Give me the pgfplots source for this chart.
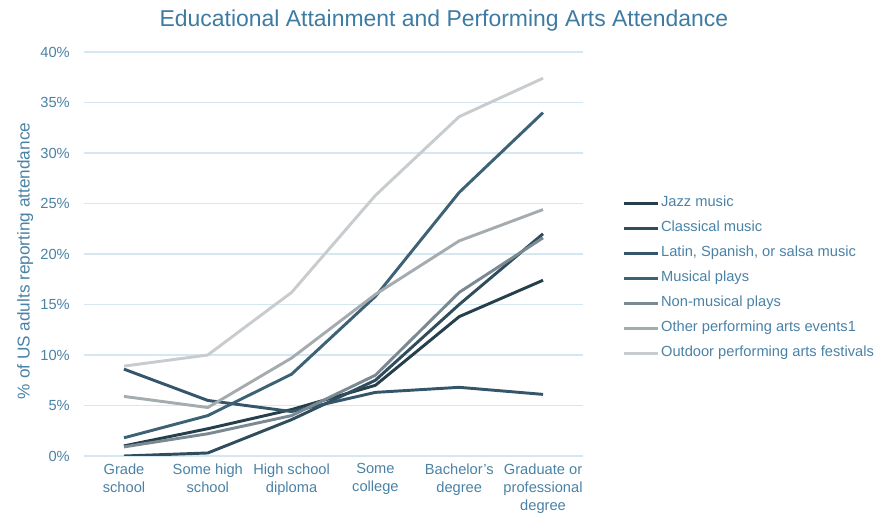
\documentclass[border=0pt]{standalone}
\usepackage{fontspec}
\setmainfont{Liberation Sans}
\usepackage{pgfplots}
\pgfplotsset{compat=1.18}
\definecolor{txt}{HTML}{4A82A6}
\definecolor{ttl}{HTML}{3D7BA3}
\definecolor{gridc}{HTML}{D5E7F0}
\definecolor{cjazz}{HTML}{263F4C}
\definecolor{cclass}{HTML}{2F4D5C}
\definecolor{clatin}{HTML}{35566A}
\definecolor{cmus}{HTML}{3D6275}
\definecolor{cnon}{HTML}{7A8992}
\definecolor{cother}{HTML}{A5ACB0}
\definecolor{cout}{HTML}{C8CCCE}
\begin{document}
\begin{tikzpicture}[x=0.75pt,y=0.75pt]
\path[use as bounding box] (0,0) rectangle (888,517);
\begin{axis}[
  at={(63pt,45.75pt)}, anchor=south west,
  scale only axis, width=374.25pt, height=303pt,
  xmin=-0.477, xmax=5.477, ymin=0, ymax=40,
  axis line style={draw=none}, tick style={draw=none}, major tick length=0pt,
  ymajorgrids, grid style={color=gridc, line width=1.1pt},
  ytick={0,5,...,40},
  yticklabel={\pgfmathprintnumber{\tick}\%},
  /pgf/number format/assume math mode=true,
  yticklabel style={inner sep=0pt, xshift=-10.5pt, font=\fontsize{11}{13.5}\selectfont, text=txt},
  xtick={0,1,2,3,4,5},
  xticklabels={{Grade\\school},{Some high\\school},{High school\\diploma},{Some\\college},{Bachelor's\\degree},{Graduate or\\professional\\degree}},
  xticklabel style={align=center, inner sep=0pt, yshift=-5.5pt, font=\fontsize{11}{13.5}\selectfont, text=txt},
  ylabel={\% of US adults reporting attendance},
  ylabel style={at={(axis description cs:-0.118,0.483)}, anchor=center, font=\fontsize{12.9}{15}\selectfont, text=txt},
  title={Educational Attainment and Performing Arts Attendance},
  title style={at={(axis description cs:0.7214,1.059)}, anchor=center, font=\fontsize{17.2}{20}\selectfont, text=ttl},
  legend style={at={(axis description cs:1.070,0.44)}, anchor=west, draw=none, fill=none,
    font=\fontsize{11}{13.5}\selectfont, text=txt,
    nodes={inner sep=0pt, text height=8pt, text depth=2.5pt}, row sep=8.25pt, column sep=1pt},
  legend cell align=left,
  legend image code/.code={\draw[#1] (0pt,0pt) -- (26pt,0pt);},
  every axis plot/.append style={line width=2.2pt, mark=none, line join=round},
]
\addplot[cjazz] coordinates {(0,1.0) (1,2.7) (2,4.6) (3,7.0) (4,13.8) (5,17.4)};
\addlegendentry{Jazz music}
\addplot[cclass] coordinates {(0,0.0) (1,0.3) (2,3.6) (3,7.5) (4,15.0) (5,22.0)};
\addlegendentry{Classical music}
\addplot[clatin] coordinates {(0,8.6) (1,5.5) (2,4.4) (3,6.3) (4,6.8) (5,6.1)};
\addlegendentry{Latin, Spanish, or salsa music}
\addplot[cmus] coordinates {(0,1.8) (1,4.0) (2,8.1) (3,15.8) (4,26.1) (5,34.0)};
\addlegendentry{Musical plays}
\addplot[cnon] coordinates {(0,0.9) (1,2.2) (2,4.0) (3,8.0) (4,16.2) (5,21.6)};
\addlegendentry{Non-musical plays}
\addplot[cother] coordinates {(0,5.9) (1,4.8) (2,9.7) (3,16.0) (4,21.3) (5,24.4)};
\addlegendentry{Other performing arts events1}
\addplot[cout] coordinates {(0,8.9) (1,10.0) (2,16.2) (3,25.8) (4,33.6) (5,37.4)};
\addlegendentry{Outdoor performing arts festivals}
\end{axis}
\end{tikzpicture}
\end{document}
